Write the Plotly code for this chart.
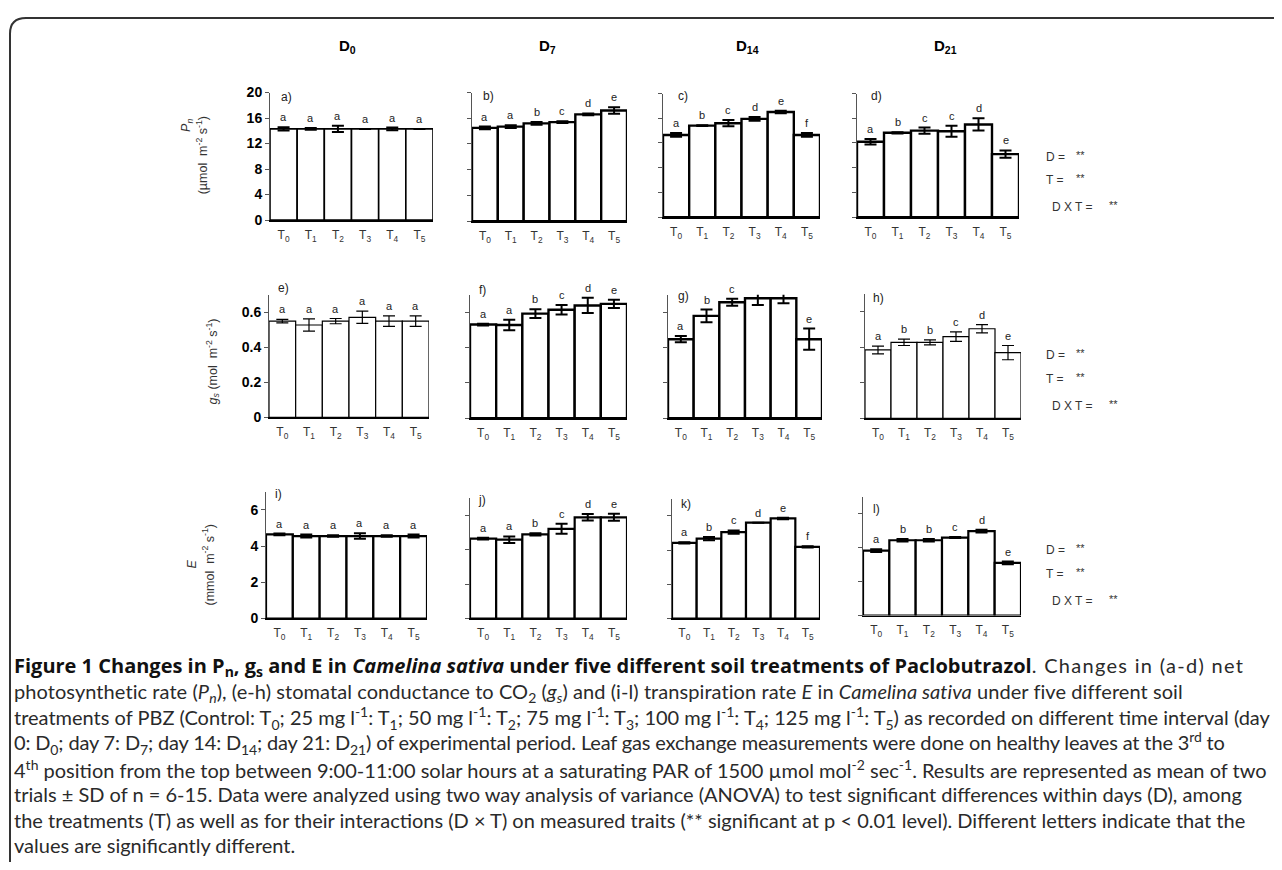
import plotly.graph_objects as go

# ---------------- data ----------------
treatments = ["T<sub>0</sub>", "T<sub>1</sub>", "T<sub>2</sub>", "T<sub>3</sub>", "T<sub>4</sub>", "T<sub>5</sub>"]
day_titles = ["D<sub>0</sub>", "D<sub>7</sub>", "D<sub>14</sub>", "D<sub>21</sub>"]
panel_tags = ["a)", "b)", "c)", "d)", "e)", "f)", "g)", "h)", "i)", "j)", "k)", "l)"]

# Net photosynthetic rate Pn (µmol m-2 s-1)
pn_d0 = [14.3, 14.3, 14.3, 14.3, 14.3, 14.3]
pn_d0_sd = [0.25, 0.15, 0.5, 0.0, 0.2, 0.0]
pn_d7 = [14.5, 14.7, 15.2, 15.4, 16.6, 17.2]
pn_d7_sd = [0.2, 0.2, 0.2, 0.15, 0.15, 0.5]
pn_d14 = [13.3, 14.8, 15.2, 15.9, 17.0, 13.3]
pn_d14_sd = [0.3, 0.05, 0.5, 0.3, 0.2, 0.3]
pn_d21 = [12.2, 13.65, 14.0, 13.9, 15.0, 10.2]
pn_d21_sd = [0.45, 0.1, 0.5, 0.9, 1.0, 0.6]

# Stomatal conductance gs (mol m-2 s-1)
gs_d0 = [0.549, 0.527, 0.549, 0.571, 0.549, 0.549]
gs_d0_sd = [0.01, 0.035, 0.015, 0.035, 0.03, 0.03]
gs_d7 = [0.531, 0.528, 0.593, 0.615, 0.639, 0.648]
gs_d7_sd = [0.005, 0.03, 0.025, 0.027, 0.043, 0.023]
gs_d14 = [0.448, 0.58, 0.657, 0.68, 0.68, 0.448]
gs_d14_sd = [0.018, 0.036, 0.02, 0.039, 0.029, 0.06]
gs_d21 = [0.384, 0.427, 0.427, 0.459, 0.503, 0.369]
gs_d21_sd = [0.022, 0.018, 0.014, 0.027, 0.023, 0.04]

# Transpiration rate E (mmol m-2 s-1)
e_d0 = [4.65, 4.56, 4.56, 4.56, 4.56, 4.56]
e_d0_sd = [0.05, 0.08, 0.04, 0.15, 0.04, 0.08]
e_d7 = [4.63, 4.57, 4.88, 5.2, 5.87, 5.87]
e_d7_sd = [0.05, 0.19, 0.07, 0.29, 0.19, 0.2]
e_d14 = [4.42, 4.67, 5.05, 5.6, 5.85, 4.19]
e_d14_sd = [0.04, 0.1, 0.1, 0.0, 0.04, 0.04]
e_d21 = [3.83, 4.44, 4.44, 4.6, 4.98, 3.1]
e_d21_sd = [0.08, 0.08, 0.08, 0.03, 0.08, 0.08]

# significance letters
let_pn_d0 = ["a", "a", "a", "a", "a", "a"]
let_pn_d7 = ["a", "a", "b", "c", "d", "e"]
let_pn_d14 = ["a", "b", "c", "d", "e", "f"]
let_pn_d21 = ["a", "b", "c", "c", "d", "e"]
let_gs_d0 = ["a", "a", "a", "a", "a", "a"]
let_gs_d7 = ["a", "a", "b", "c", "d", "e"]
let_gs_d14 = ["a", "b", "c", "d", "d", "e"]
let_gs_d21 = ["a", "b", "b", "c", "d", "e"]
let_e_d0 = ["a", "a", "a", "a", "a", "a"]
let_e_d7 = ["a", "a", "b", "c", "d", "e"]
let_e_d14 = ["a", "b", "c", "d", "e", "f"]
let_e_d21 = ["a", "b", "b", "c", "d", "e"]

anova_terms = ["D = ", "T = ", "D X T = "]
anova_sig = ["**", "**", "**"]

# ---------------- layout helpers ----------------
OFF = 8
W, H = 1282 - 2 * OFF, 870 - 2 * OFF


def px(x):
    return (x - OFF) / W


def py(y):
    return 1 - (y - OFF) / H


means = [pn_d0, pn_d7, pn_d14, pn_d21, gs_d0, gs_d7, gs_d14, gs_d21, e_d0, e_d7, e_d14, e_d21]
sds = [pn_d0_sd, pn_d7_sd, pn_d14_sd, pn_d21_sd, gs_d0_sd, gs_d7_sd, gs_d14_sd, gs_d21_sd,
       e_d0_sd, e_d7_sd, e_d14_sd, e_d21_sd]
letters = [let_pn_d0, let_pn_d7, let_pn_d14, let_pn_d21, let_gs_d0, let_gs_d7, let_gs_d14, let_gs_d21,
           let_e_d0, let_e_d7, let_e_d14, let_e_d21]

# pixel boxes: (left, right, top-of-range, bottom)
boxes = [
    (270, 433, 86, 216), (472, 627, 86, 217), (663, 820, 87, 213), (857, 1019, 87, 213),
    (269, 429, 292, 417), (470, 627, 292, 418), (668, 822, 292, 418), (865, 1021, 291, 418),
    (266, 427, 493, 622), (470, 627, 499, 622), (672, 820, 500, 622), (863, 1021, 498, 619),
]
row_max = [20, 0.7, 7]
row_dtick = [4, 0.2, 2]
line_w = [1.6, 2.4, 2.4, 2.4, 1.2, 2.4, 2.4, 1.2, 2.2, 2.2, 2.2, 2.2]
err_w = [2.0, 2.0, 2.0, 2.0, 1.2, 2.0, 2.0, 1.2, 2.0, 2.0, 2.0, 2.0]
tag_pos = [(279, 91), (481, 90), (676, 90), (869, 90),
           (276, 285), (477, 287), (676, 293), (871, 295),
           (273, 495), (476, 501), (679, 505), (871, 510)]

fig = go.Figure()
layout = {}
annotations = []
shapes = []

for i in range(12):
    k = i + 1
    row = i // 4
    col = i % 4
    l, r, t, b = boxes[i]
    xa = "x" if k == 1 else f"x{k}"
    ya = "y" if k == 1 else f"y{k}"
    fig.add_trace(go.Bar(
        x=list(range(6)), y=means[i], width=1.0,
        marker=dict(color="white", line=dict(color="black", width=line_w[i])),
        error_y=dict(type="data", array=sds[i], visible=True, color="black",
                     thickness=err_w[i], width=6),
        xaxis=xa, yaxis=ya, showlegend=False, hoverinfo="skip",
    ))
    layout["xaxis" if k == 1 else f"xaxis{k}"] = dict(
        domain=[px(l), px(r)], range=[-0.5, 5.5], anchor=ya,
        tickvals=list(range(6)), ticktext=treatments, ticks="",
        showline=True, linecolor="black", linewidth=1.5,
        tickfont=dict(family="Liberation Sans", size=12, color="#333"),
        ticklabelstandoff=3,
        showgrid=False, zeroline=False, fixedrange=True,
    )
    layout["yaxis" if k == 1 else f"yaxis{k}"] = dict(
        domain=[py(b), py(t)], range=[0, row_max[row]], anchor=xa,
        dtick=row_dtick[row], tick0=0, ticks="outside", ticklen=4, tickcolor="#555",
        showline=True, linecolor="#555", linewidth=1,
        showticklabels=(col == 0),
        tickfont=dict(family="Liberation Sans", size=14, color="black", weight="bold"),
        showgrid=False, zeroline=False, fixedrange=True,
    )
    # significance letters
    for j in range(6):
        annotations.append(dict(
            x=j, y=means[i][j] + sds[i][j], xref=xa, yref=ya,
            text=letters[i][j], showarrow=False, yanchor="bottom", yshift=2,
            font=dict(family="Liberation Sans", size=11, color="#222"),
        ))
    # panel tag
    tx, ty = tag_pos[i]
    annotations.append(dict(
        x=px(tx), y=py(ty), xref="paper", yref="paper", text=panel_tags[i],
        showarrow=False, xanchor="left", yanchor="middle",
        font=dict(family="Liberation Sans", size=12, color="#222"),
    ))

# column titles
for x, txt in zip([347, 547, 747, 945], day_titles):
    annotations.append(dict(
        x=px(x), y=py(39), xref="paper", yref="paper", text=f"<b>{txt}</b>",
        showarrow=False, xanchor="center", yanchor="middle",
        font=dict(family="Liberation Sans", size=15, color="black"),
    ))

# y axis titles
ytitles = [
    ("<i>P<sub>n</sub></i>", 187, 120),
    ("(µmol  m<sup>-2</sup> s<sup>-1</sup>)", 202, 150),
    ("<i>g<sub>s</sub></i> (mol  m<sup>-2</sup> s<sup>-1</sup>)", 213, 360),
    ("<i>E</i>", 192, 567),
    ("(mmol  m<sup>-2</sup> s<sup>-1</sup>)", 208, 567),
]
for txt, x, y in ytitles:
    annotations.append(dict(
        x=px(x), y=py(y), xref="paper", yref="paper", text=txt, textangle=-90,
        showarrow=False, xanchor="center", yanchor="middle",
        font=dict(family="Liberation Sans", size=12.5, color="#333"),
    ))

# ANOVA labels
anova_rows = [(152, 175, 203), (353, 378, 405), (552, 577, 604)]
for ys in anova_rows:
    for n, y in enumerate(ys):
        xl = 1044 if n < 2 else 1050
        xs = 1074 if n < 2 else 1107
        annotations.append(dict(
            x=px(xl), y=py(y), xref="paper", yref="paper", text=anova_terms[n],
            showarrow=False, xanchor="left", yanchor="middle",
            font=dict(family="Liberation Sans", size=12, color="#333"),
        ))
        annotations.append(dict(
            x=px(xs), y=py(y - 2), xref="paper", yref="paper", text=anova_sig[n],
            showarrow=False, xanchor="left", yanchor="middle",
            font=dict(family="Liberation Sans", size=11, color="#333"),
        ))

# caption
BOLD = "<span style=\"font-family:'Open Sans';font-weight:bold;color:#111\">"
caption_lines = [
    BOLD + "Figure 1 Changes in P<sub>n</sub>, g<sub>s</sub> and E in <i>Camelina sativa</i> under five different soil treatments of Paclobutrazol</span>"
    "<span style=\"letter-spacing:1.3px\">. Changes in (a-d) net</span>",
    "<span style=\"letter-spacing:0.07px\">photosynthetic rate (<i>P<sub>n</sub></i>), (e-h) stomatal conductance to CO<sub>2</sub> (<i>g<sub>s</sub></i>) and (i-l) transpiration rate <i>E</i> in <i>Camelina sativa</i> under five different soil</span>",
    "treatments of PBZ (Control: T<sub>0</sub>; 25 mg l<sup>-1</sup>: T<sub>1</sub>; 50 mg l<sup>-1</sup>: T<sub>2</sub>; 75 mg l<sup>-1</sup>: T<sub>3</sub>; 100 mg l<sup>-1</sup>: T<sub>4</sub>; 125 mg l<sup>-1</sup>: T<sub>5</sub>) as recorded on different time interval (day",
    "<span style=\"letter-spacing:-0.15px\">0: D<sub>0</sub>; day 7: D<sub>7</sub>; day 14: D<sub>14</sub>; day 21: D<sub>21</sub>) of experimental period. Leaf gas exchange measurements were done on healthy leaves at the 3<sup>rd</sup> to</span>",
    "4<sup>th</sup> position from the top between 9:00-11:00 solar hours at a saturating PAR of 1500 µmol mol<sup>-2</sup> sec<sup>-1</sup>. Results are represented as mean of two",
    "trials ± SD of n = 6-15. Data were analyzed using two way analysis of variance (ANOVA) to test significant differences within days (D), among",
    "the treatments (T) as well as for their interactions (D × T) on measured traits (** significant at p &lt; 0.01 level). Different letters indicate that the",
    "values are significantly different.",
]
caption_y = [671, 697, 723, 749, 775, 801, 827, 853]
for txt, y in zip(caption_lines, caption_y):
    annotations.append(dict(
        x=px(12), y=py(y), xref="paper", yref="paper", text=txt,
        showarrow=False, xanchor="left", yanchor="middle",
        font=dict(family="Lato", size=20, color="#2a2a2a"),
    ))

# outer frame (top-left rounded)
shapes.append(dict(
    type="path", xref="paper", yref="paper",
    path=f"M {px(10)},{py(880)} L {px(10)},{py(26)} Q {px(10)},{py(10)} {px(26)},{py(10)} L {px(1290)},{py(10)}",
    line=dict(color="#333", width=2),
))

fig.update_layout(
    width=W, height=H, margin=dict(l=0, r=0, t=0, b=0),
    paper_bgcolor="white", plot_bgcolor="white",
    annotations=annotations, shapes=shapes, bargap=0,
    font=dict(family="Liberation Sans"),
    **layout,
)

fig.write_html("out.html", config={"displayModeBar": False, "staticPlot": True})
